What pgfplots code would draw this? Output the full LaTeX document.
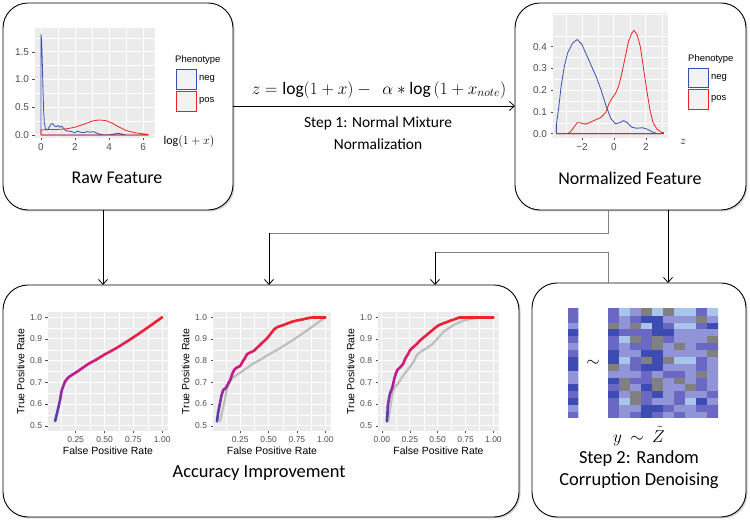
\documentclass[border=0pt]{standalone}
\usepackage{fontspec}
\setmainfont{Carlito}
\newfontfamily\pf{Liberation Sans}
\usepackage{pgfplots}
\pgfplotsset{compat=1.18}
\usetikzlibrary{arrows.meta}

\definecolor{panel}{HTML}{EBEBEB}
\definecolor{negc}{HTML}{3A4FB0}
\definecolor{posc}{HTML}{F02020}
\definecolor{tickc}{HTML}{4D4D4D}
\definecolor{rocgray}{HTML}{BEBEBE}
\definecolor{legfill}{HTML}{F2F2F2}

\pgfplotsset{
  colormap={roc}{rgb255=(55,75,170) rgb255=(130,50,165) rgb255=(200,25,140) rgb255=(230,30,85) rgb255=(242,35,40)},
  gg/.style={
    scale only axis,
    axis background/.style={fill=panel},
    axis line style={draw=none},
    grid=both,
    major grid style={white, line width=0.9bp},
    minor grid style={white, line width=0.45bp},
    tick align=outside,
    major tick length=2.5bp,
    minor tick length=0pt,
    tick style={tickc, line width=0.5bp},
    tick pos=left,
    ticklabel style={font=\pf\fontsize{10}{11}\selectfont, text=tickc},
    label style={font=\pf\fontsize{10.5}{12}\selectfont, text=black},
  },
  roc/.style={gg, anchor=south west, width=120bp, height=119bp,
    ymin=0.476, ymax=1.024,
    ticklabel style={font=\pf\fontsize{8.5}{10}\selectfont, text=tickc},
    ytick={0.5,0.6,0.7,0.8,0.9,1.0}, yticklabels={0.5,0.6,0.7,0.8,0.9,1.0},
    minor xtick={0.125,0.375,0.625,0.875},
    minor ytick={0.55,0.65,0.75,0.85,0.95},
    xlabel={False Positive Rate}, ylabel={True Positive Rate},
    xlabel style={yshift=3bp}, ylabel style={yshift=-1bp},
    colormap name=roc, point meta min=0.5, point meta max=1},
  rocline/.style={mesh, point meta=y, line width=2.6bp, line cap=round, line join=round},
  grayline/.style={rocgray, line width=2.2bp, line cap=round, line join=round},
  heat/.style={scale only axis, hide axis, anchor=south west,
    ymin=-0.5, ymax=15.5,
    colormap={heat}{rgb255=(60,76,178) rgb255=(106,104,194) rgb255=(146,148,216) rgb255=(168,198,236) rgb255=(128,128,128)},
    colormap access=direct},
}

\begin{document}
\begin{tikzpicture}
\path[use as bounding box] (0,0) rectangle (750bp,522bp);

% boxes with light shadow
\foreach \a/\b/\c/\d in {3/312/233/519, 515/312/746/519, 3/5/519/237, 532/5/746/239}{
  \fill[gray!35, rounded corners=25bp] (\a bp+1.5bp,\b bp-1.5bp) rectangle (\c bp+1.5bp,\d bp-1.5bp);
  \draw[black, line width=0.9bp, fill=white, rounded corners=25bp] (\a bp,\b bp) rectangle (\c bp,\d bp);
}

% arrows
\draw[line width=0.8bp, -{Straight Barb[length=5bp,width=9bp]}] (233bp,416bp) -- (515bp,416bp);
\draw[line width=0.8bp, -{Straight Barb[length=5bp,width=9bp]}] (103bp,312bp) -- (103bp,237bp);
\draw[line width=0.8bp, -{Straight Barb[length=5bp,width=9bp]}] (668bp,312bp) -- (668bp,239bp);
\draw[gray, line width=0.8bp] (608bp,312bp) -- (608bp,289bp) -- (269bp,289bp);
\draw[line width=0.8bp, -{Straight Barb[length=5bp,width=9bp]}] (269bp,289bp) -- (269bp,237bp);
\draw[gray, line width=0.8bp] (608bp,239bp) -- (608bp,270bp) -- (435bp,270bp);
\draw[line width=0.8bp, -{Straight Barb[length=5bp,width=9bp]}] (435bp,270bp) -- (435bp,237bp);

% texts
\node[font=\fontsize{17.5}{20}\selectfont, inner sep=0pt] at (379bp,432bp) {$z = \log(1+x) -\ \ \alpha \ast \log\,(1+x_{note})$};
\node[font=\fontsize{15.5}{22}\selectfont, align=center, inner sep=0pt] at (378bp,389bp) {Step 1: Normal Mixture\\Normalization};
\node[font=\fontsize{18}{21}\selectfont] at (117bp,344bp) {Raw Feature};
\node[font=\fontsize{18}{21}\selectfont] at (630bp,344bp) {Normalized Feature};
\node[font=\fontsize{18.5}{21}\selectfont] at (259bp,49bp) {Accuracy Improvement};
\node[font=\fontsize{16.5}{19}\selectfont, inner sep=0pt] at (639bp,86bp) {$y\ \sim\ \tilde{Z}$};
\node[font=\fontsize{18.5}{22}\selectfont, align=center, inner sep=0pt] at (639bp,52bp) {Step 2: Random\\Corruption Denoising};
\node[font=\fontsize{17}{19}\selectfont] at (593bp,159bp) {$\sim$};
\node[font=\fontsize{12}{14}\selectfont] at (189bp,380bp) {$\log(1+x)$};
\node[font=\fontsize{12}{14}\selectfont] at (683bp,380bp) {$z$};

% legends
\node[anchor=west, inner sep=0pt, font=\pf\fontsize{9.5}{11}\selectfont] at (175bp,462bp) {Phenotype};
\draw[negc, fill=legfill, line width=0.8bp] (176bp,433bp) rectangle (196bp,453bp);
\draw[posc, fill=legfill, line width=0.8bp] (176bp,411bp) rectangle (196bp,431bp);
\node[anchor=west, inner sep=0pt, font=\pf\fontsize{9.5}{11}\selectfont] at (199bp,443bp) {neg};
\node[anchor=west, inner sep=0pt, font=\pf\fontsize{9.5}{11}\selectfont] at (199bp,421bp) {pos};
\node[anchor=west, inner sep=0pt, font=\pf\fontsize{9.5}{11}\selectfont] at (688bp,463bp) {Phenotype};
\draw[negc, fill=legfill, line width=0.8bp] (688bp,435bp) rectangle (708bp,454bp);
\draw[posc, fill=legfill, line width=0.8bp] (688bp,413bp) rectangle (708bp,433bp);
\node[anchor=west, inner sep=0pt, font=\pf\fontsize{9.5}{11}\selectfont] at (711bp,444bp) {neg};
\node[anchor=west, inner sep=0pt, font=\pf\fontsize{9.5}{11}\selectfont] at (711bp,423bp) {pos};

% raw density
\begin{axis}[gg, at={(35bp,384bp)}, anchor=south west, width=120bp, height=110bp,
  xmin=-0.35, xmax=6.7, ymin=-0.055, ymax=1.93,
  xtick={0,2,4,6}, xticklabels={0,2,4,6},
  ytick={0,0.5,1,1.5}, yticklabels={0.0,0.5,1.0,1.5},
  minor xtick={1,3,5}, minor ytick={0.25,0.75,1.25,1.75}]
\addplot[negc, line width=0.8bp] coordinates {(0,0) (0,1.82) (0.04,1.7) (0.08,1.3) (0.12,0.8) (0.16,0.42) (0.2,0.22) (0.26,0.12) (0.32,0.09) (0.4,0.1) (0.5,0.15) (0.6,0.2) (0.7,0.2) (0.8,0.16) (0.9,0.15) (1.0,0.17) (1.1,0.14) (1.2,0.16) (1.3,0.13) (1.45,0.08) (1.6,0.07) (1.8,0.06) (2.0,0.04) (2.15,0.07) (2.3,0.05) (2.5,0.04) (2.7,0.06) (2.9,0.05) (3.1,0.06) (3.3,0.03) (3.5,0.01) (3.8,0.0) (4.2,0.01) (4.5,0.03) (4.7,0.02) (5.0,0.0) (6.3,0.0) (0,0)};
\addplot[posc, line width=0.8bp] coordinates {(0,0) (0,0.09) (0.5,0.1) (1.0,0.1) (1.5,0.11) (2.0,0.14) (2.5,0.19) (3.0,0.25) (3.4,0.27) (3.8,0.26) (4.2,0.21) (4.6,0.14) (5.0,0.08) (5.5,0.04) (6.0,0.02) (6.3,0.01) (6.3,0) (0,0)};
\end{axis}

% normalized density
\begin{axis}[gg, at={(553bp,384bp)}, anchor=south west, width=115bp, height=125bp,
  xmin=-3.81, xmax=3.38, ymin=-0.02, ymax=0.555,
  xtick={-2,0,2}, xticklabels={−2,0,2},
  ytick={0,0.1,0.2,0.3,0.4}, yticklabels={0.0,0.1,0.2,0.3,0.4},
  minor xtick={-3,-1,1,3}, minor ytick={0.05,0.15,0.25,0.35,0.45,0.55}]
\addplot[negc, line width=0.8bp] coordinates {(-3.6,0) (-3.6,0.04) (-3.45,0.12) (-3.3,0.22) (-3.1,0.31) (-2.9,0.37) (-2.6,0.415) (-2.3,0.433) (-2.0,0.41) (-1.7,0.36) (-1.4,0.31) (-1.1,0.26) (-0.8,0.2) (-0.5,0.13) (-0.2,0.07) (0.1,0.045) (0.35,0.05) (0.6,0.06) (0.85,0.05) (1.1,0.03) (1.4,0.025) (1.8,0.027) (2.1,0.02) (2.4,0.008) (2.7,0.0) (3.1,0.0) (-3.6,0)};
\addplot[posc, line width=0.8bp] coordinates {(-3.6,0) (-2.9,0.0) (-2.7,0.01) (-2.5,0.03) (-2.3,0.05) (-2.1,0.05) (-1.9,0.045) (-1.7,0.045) (-1.4,0.055) (-1.1,0.065) (-0.8,0.075) (-0.5,0.1) (-0.3,0.14) (-0.1,0.165) (0.1,0.185) (0.3,0.22) (0.5,0.28) (0.7,0.35) (0.9,0.42) (1.1,0.46) (1.25,0.475) (1.45,0.455) (1.65,0.4) (1.85,0.3) (2.05,0.2) (2.25,0.11) (2.45,0.05) (2.7,0.02) (3.0,0.005) (3.1,0.005) (3.1,0) (-3.6,0)};
\end{axis}

% ROC 1
\begin{axis}[roc, at={(48bp,91bp)}, xmin=0.01, xmax=1.05,
  xtick={0.25,0.5,0.75,1}, xticklabels={0.25,0.50,0.75,1.00}]
\addplot[rocline] coordinates {(0.072,0.522) (0.085,0.55) (0.1,0.585) (0.115,0.62) (0.125,0.655) (0.14,0.68) (0.155,0.7) (0.17,0.713) (0.19,0.724) (0.22,0.735) (0.26,0.748) (0.3,0.763) (0.36,0.785) (0.43,0.805) (0.5,0.828) (0.6,0.857) (0.7,0.89) (0.8,0.925) (0.9,0.962) (1.0,1.0)};
\end{axis}

% ROC 2
\begin{axis}[roc, at={(213bp,91bp)}, width=118bp, xmin=0.01, xmax=1.05,
  xtick={0.25,0.5,0.75,1}, xticklabels={0.25,0.50,0.75,1.00}]
\addplot[grayline] coordinates {(0.072,0.522) (0.085,0.55) (0.1,0.585) (0.115,0.62) (0.125,0.655) (0.14,0.68) (0.155,0.7) (0.17,0.713) (0.19,0.724) (0.22,0.735) (0.26,0.748) (0.3,0.763) (0.36,0.785) (0.43,0.805) (0.5,0.828) (0.6,0.857) (0.7,0.89) (0.8,0.925) (0.9,0.962) (1.0,1.0)};
\addplot[rocline] coordinates {(0.045,0.52) (0.055,0.56) (0.07,0.6) (0.085,0.64) (0.1,0.665) (0.12,0.672) (0.135,0.685) (0.15,0.7) (0.165,0.715) (0.18,0.74) (0.2,0.76) (0.225,0.77) (0.25,0.775) (0.27,0.795) (0.29,0.81) (0.31,0.83) (0.34,0.838) (0.37,0.845) (0.4,0.86) (0.43,0.875) (0.46,0.89) (0.49,0.905) (0.52,0.925) (0.55,0.945) (0.58,0.955) (0.62,0.962) (0.66,0.97) (0.7,0.978) (0.75,0.985) (0.8,0.99) (0.86,0.997) (0.9,1.0) (1.0,1.0)};
\end{axis}

% ROC 3
\begin{axis}[roc, at={(378bp,91bp)}, width=121bp, xmin=-0.035, xmax=1.05,
  xtick={0,0.25,0.5,0.75,1}, xticklabels={0.00,0.25,0.50,0.75,1.00}]
\addplot[grayline] coordinates {(0.058,0.52) (0.07,0.57) (0.082,0.608) (0.1,0.66) (0.12,0.68) (0.146,0.695) (0.175,0.72) (0.205,0.742) (0.235,0.76) (0.263,0.78) (0.29,0.8) (0.316,0.828) (0.36,0.845) (0.41,0.86) (0.45,0.875) (0.497,0.9) (0.53,0.92) (0.57,0.94) (0.61,0.953) (0.643,0.964) (0.69,0.975) (0.73,0.984) (0.78,0.99) (0.82,0.995) (0.9,1.0) (1.0,1.0)};
\addplot[rocline] coordinates {(0.044,0.52) (0.05,0.56) (0.053,0.592) (0.065,0.63) (0.073,0.65) (0.09,0.67) (0.1,0.69) (0.11,0.715) (0.125,0.74) (0.14,0.758) (0.165,0.77) (0.19,0.785) (0.21,0.81) (0.234,0.83) (0.255,0.85) (0.28,0.862) (0.31,0.875) (0.336,0.89) (0.37,0.905) (0.41,0.922) (0.44,0.935) (0.47,0.948) (0.5,0.96) (0.53,0.968) (0.57,0.975) (0.614,0.984) (0.66,0.992) (0.7,1.0) (1.0,1.0)};
\end{axis}

% heatmap vector y
\begin{axis}[heat, at={(568bp,104bp)}, width=10bp, height=110bp, xmin=-0.5, xmax=0.5]
\addplot[matrix plot*, mesh/cols=2, point meta=explicit] table[meta=c] {
x y c
0 0 1
1 0 1
0 1 2
1 1 2
0 2 0
1 2 0
0 3 1
1 3 1
0 4 0
1 4 0
0 5 2
1 5 2
0 6 2
1 6 2
0 7 0
1 7 0
0 8 0
1 8 0
0 9 1
1 9 1
0 10 2
1 10 2
0 11 1
1 11 1
0 12 0
1 12 0
0 13 2
1 13 2
0 14 1
1 14 1
0 15 1
1 15 1
};
\end{axis}

% heatmap matrix Z
\begin{axis}[heat, at={(608bp,104bp)}, width=110bp, height=110bp, xmin=-0.5, xmax=9.5]
\addplot[matrix plot*, mesh/cols=10, point meta=explicit] table[meta=c] {
x y c
0 0 1
1 0 2
2 0 1
3 0 0
4 0 1
5 0 2
6 0 1
7 0 2
8 0 2
9 0 1
0 1 1
1 1 2
2 1 2
3 1 0
4 1 0
5 1 1
6 1 2
7 1 2
8 1 1
9 1 1
0 2 1
1 2 3
2 2 4
3 2 1
4 2 2
5 2 2
6 2 1
7 2 3
8 2 0
9 2 2
0 3 0
1 3 2
2 3 4
3 3 1
4 3 0
5 3 2
6 3 1
7 3 2
8 3 2
9 3 1
0 4 1
1 4 4
2 4 2
3 4 0
4 4 4
5 4 2
6 4 2
7 4 4
8 4 1
9 4 2
0 5 0
1 5 4
2 5 1
3 5 1
4 5 4
5 5 2
6 5 4
7 5 2
8 5 1
9 5 2
0 6 2
1 6 2
2 6 2
3 6 1
4 6 2
5 6 1
6 6 1
7 6 2
8 6 4
9 6 2
0 7 4
1 7 2
2 7 1
3 7 0
4 7 0
5 7 2
6 7 2
7 7 2
8 7 1
9 7 2
0 8 0
1 8 3
2 8 1
3 8 4
4 8 0
5 8 4
6 8 3
7 8 3
8 8 1
9 8 2
0 9 0
1 9 2
2 9 2
3 9 0
4 9 0
5 9 2
6 9 2
7 9 2
8 9 2
9 9 4
0 10 1
1 10 2
2 10 1
3 10 1
4 10 4
5 10 2
6 10 4
7 10 2
8 10 1
9 10 1
0 11 1
1 11 3
2 11 4
3 11 1
4 11 4
5 11 1
6 11 2
7 11 2
8 11 2
9 11 4
0 12 0
1 12 1
2 12 1
3 12 1
4 12 0
5 12 0
6 12 2
7 12 2
8 12 2
9 12 2
0 13 4
1 13 2
2 13 4
3 13 3
4 13 0
5 13 1
6 13 3
7 13 3
8 13 1
9 13 0
0 14 1
1 14 2
2 14 1
3 14 0
4 14 0
5 14 2
6 14 2
7 14 2
8 14 4
9 14 2
0 15 1
1 15 3
2 15 2
3 15 4
4 15 3
5 15 4
6 15 3
7 15 3
8 15 1
9 15 3
};
\end{axis}
\end{tikzpicture}
\end{document}
